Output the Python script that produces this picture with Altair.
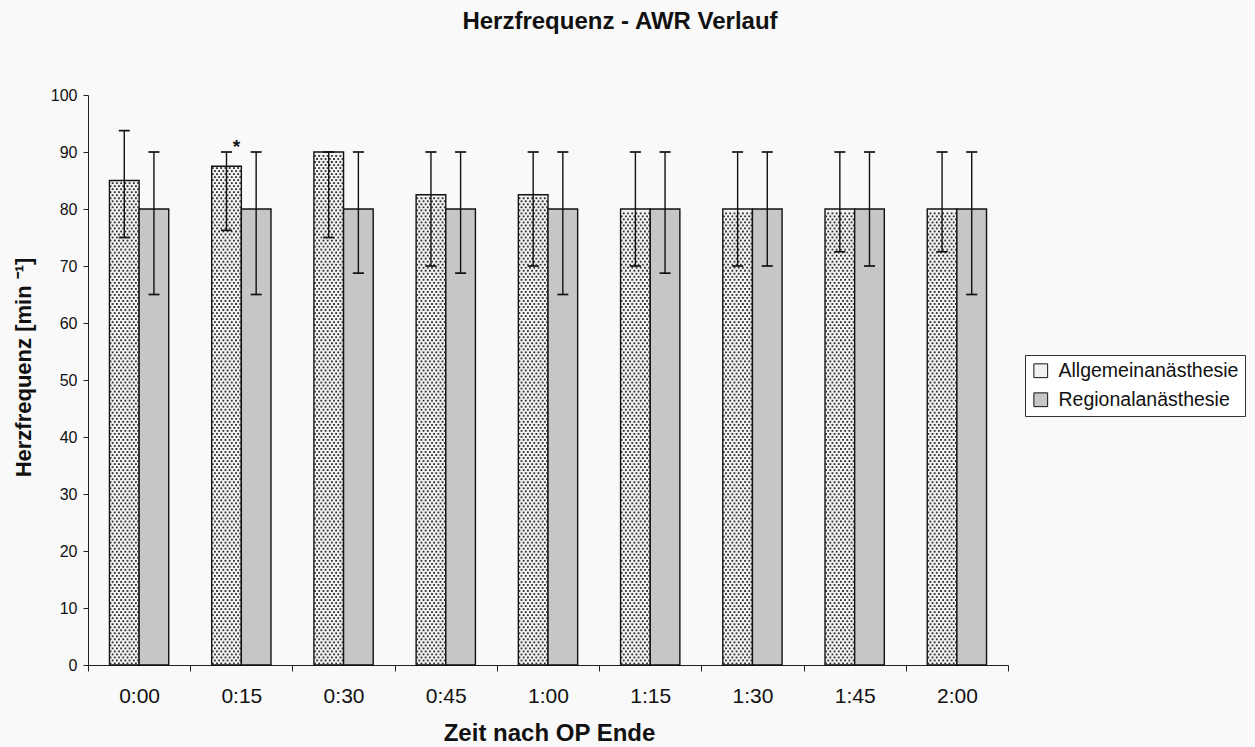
import json

import altair as alt
import pandas as pd

# --- data -------------------------------------------------------------------
zeit = ["0:00", "0:15", "0:30", "0:45", "1:00", "1:15", "1:30", "1:45", "2:00"]
gruppen = ["Allgemeinanästhesie", "Regionalanästhesie"]

# Allgemeinanästhesie: mean heart rate with lower / upper whisker
allg_mittel = [85, 87.5, 90, 82.5, 82.5, 80, 80, 80, 80]
allg_unten = [75, 76.25, 75, 70, 70, 70, 70, 72.5, 72.5]
allg_oben = [93.75, 90, 90, 90, 90, 90, 90, 90, 90]

# Regionalanästhesie
reg_mittel = [80, 80, 80, 80, 80, 80, 80, 80, 80]
reg_unten = [65, 65, 68.75, 68.75, 65, 68.75, 70, 70, 65]
reg_oben = [90, 90, 90, 90, 90, 90, 90, 90, 90]

# time points with a significant group difference (*)
signifikant = ["0:15"]

y_ticks = [0, 10, 20, 30, 40, 50, 60, 70, 80, 90, 100]

rows = []
for i, z in enumerate(zeit):
    rows.append(dict(zeit=z, idx=i, gruppe=gruppen[0], mittel=allg_mittel[i],
                     unten=allg_unten[i], oben=allg_oben[i]))
    rows.append(dict(zeit=z, idx=i, gruppe=gruppen[1], mittel=reg_mittel[i],
                     unten=reg_unten[i], oben=reg_oben[i]))
df = pd.DataFrame(rows)

# --- style ------------------------------------------------------------------
FONT = "Liberation Sans"
W = 0.29       # bar width in category units
CAP = 0.054    # half width of whisker caps
ROW = 0.53     # vertical spacing of the dot texture (y units)
NCOL = 7       # dots per texture row
FILL = ["#f1f1f1", "#c6c6c6"]

xscale = alt.Scale(domain=[-0.5, len(zeit) - 0.5], nice=False, zero=False)
yscale = alt.Scale(domain=[0, 100], nice=False)

tick_values = [i - 0.5 for i in range(len(zeit) + 1)] + list(range(len(zeit)))
label_expr = (f"datum.value % 1 === 0 ? {json.dumps(zeit)}[datum.value] : ''")

xaxis = alt.Axis(
    title="Zeit nach OP Ende", values=tick_values, labelExpr=label_expr,
    grid=False, tickSize=6, tickColor="#222", domainColor="#222",
    tickOpacity={"condition": {"test": "datum.value % 1 !== 0", "value": 1}, "value": 0},
    labelFontSize=21, labelFont=FONT, labelColor="#111", labelBaseline="alphabetic",
    labelPadding=31, labelOverlap=False, labelFlush=False,
    titleFont=FONT, titleFontSize=24, titleFontWeight="bold", titleColor="#111",
    titleBaseline="alphabetic", titleX=461, titleY=75,
)
yaxis = alt.Axis(
    title="Herzfrequenz [min ⁻¹]", values=y_ticks, format="d", grid=False,
    tickSize=5, tickColor="#222", domainColor="#222",
    labelFontSize=16, labelFont=FONT, labelColor="#111", labelPadding=6,
    titleFont=FONT, titleFontSize=22, titleFontWeight="bold", titleColor="#111",
    titleX=-65, titleY=272, titleBaseline="middle", titleAngle=-90,
)


def xq(field):
    return alt.X(field, type="quantitative", scale=xscale, axis=xaxis)


def yq(field):
    return alt.Y(field, type="quantitative", scale=yscale, axis=yaxis)


base = alt.Chart(df).transform_calculate(
    x0=f"datum.idx + (datum.gruppe === '{gruppen[0]}' ? {-W} : 0)"
).transform_calculate(
    x1=f"datum.x0 + {W}", xc=f"datum.x0 + {W / 2}"
)

bars = base.mark_bar(stroke="#111", strokeWidth=1.4).encode(
    x=xq("x0"),
    x2="x1:Q",
    y=yq("mittel"),
    y2=alt.datum(0),
    color=alt.Color(
        "gruppe:N",
        scale=alt.Scale(domain=gruppen, range=FILL),
        legend=alt.Legend(
            title=None, orient="none", legendX=937, legendY=260,
            direction="vertical", symbolType="square", symbolSize=190,
            symbolStrokeColor="#111", symbolStrokeWidth=1,
            labelFont=FONT, labelFontSize=19.5, labelColor="#111", labelLimit=400,
            labelOffset=8, rowPadding=8, padding=6,
            strokeColor="#333", fillColor="#ffffff",
        ),
    ),
)

# dotted texture of the Allgemeinanästhesie bars
dots = base.transform_filter(
    f"datum.gruppe === '{gruppen[0]}'"
).transform_calculate(
    r=f"sequence(0, floor(datum.mittel / {ROW}))"
).transform_flatten(["r"]).transform_calculate(
    c=f"sequence(0, {NCOL})"
).transform_flatten(["c"]).transform_calculate(
    px=f"datum.x0 + (datum.c + 0.25 + 0.5 * (datum.r % 2)) * {W / NCOL}"
).transform_calculate(
    py=f"(datum.r + 0.5) * {ROW}"
).mark_square(size=3.2, color="#2a2a2a", opacity=1).encode(
    x=xq("px"), y=yq("py")
)

whisker = base.mark_rule(color="#111", strokeWidth=1.4).encode(
    x=xq("xc"), y=yq("unten"), y2="oben:Q"
)

caps = base.transform_fold(["unten", "oben"], as_=["k", "v"]).transform_calculate(
    cl=f"datum.xc - {CAP}", cr=f"datum.xc + {CAP}"
).mark_rule(color="#111", strokeWidth=1.7).encode(
    x=xq("cl"), x2="cr:Q", y=yq("v")
)

stern = base.transform_filter(
    f"indexof({json.dumps(signifikant)}, datum.zeit) >= 0 && datum.gruppe === '{gruppen[0]}'"
).mark_text(
    text="*", font=FONT, fontSize=19, fontWeight="bold", color="#111",
    baseline="alphabetic", dx=10, dy=1,
).encode(x=xq("xc"), y=yq("oben"))

chart = alt.layer(bars, dots, whisker, caps, stern).properties(
    width=920,
    height=570,
    padding={"left": 88, "top": 95, "right": 247, "bottom": 82},
    autosize=alt.AutoSizeParams(type="none"),
    background="#f9f9f9",
    title=alt.Title(
        "Herzfrequenz - AWR Verlauf", font=FONT, fontSize=24, fontWeight="bold",
        color="#111", anchor="middle", frame="group", dx=72, offset=34,
        baseline="alphabetic",
    ),
).configure_view(strokeWidth=0)

chart.save("out.html", embed_options={"renderer": "svg", "actions": False})
